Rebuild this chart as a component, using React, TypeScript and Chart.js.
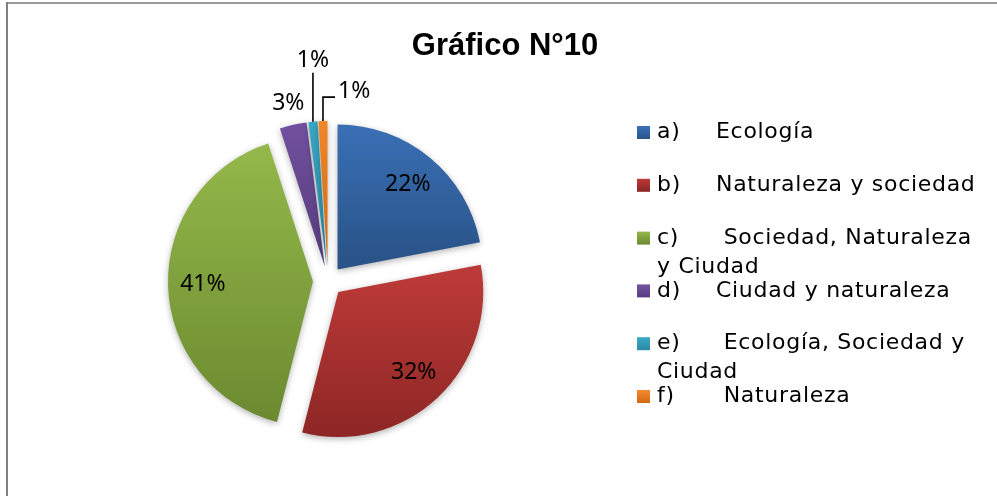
import React, { useEffect, useRef } from 'react';
import { Chart, registerables } from 'chart.js';

Chart.register(...registerables);

// ---------- data ----------
const TITLE = 'Gráfico N°10';
const CATEGORIES = [
  'a)\tEcología',
  'b)\tNaturaleza y sociedad',
  'c)\t Sociedad, Naturaleza y Ciudad',
  'd)\tCiudad y naturaleza',
  'e)\t Ecología, Sociedad y Ciudad',
  'f)\t Naturaleza',
];
const PERCENTAGES = [22, 32, 41, 3, 1, 1];

// ---------- style ----------
const TOP_COLORS = ['#3b72b9', '#bb3a37', '#94b84a', '#7453a3', '#3aa9c8', '#f58a2d'];
const BOTTOM_COLORS = ['#2a5489', '#8a2524', '#6b8a30', '#583d7e', '#2a8aa5', '#d06a12'];
const MID_COLORS = ['#3263a1', '#a2302e', '#80a13d', '#664890', '#3299b6', '#e27a20'];

const W = 997;
const H = 496;
const CX = 328;
const CY = 281;
const R = 145;
const EXPLODE = 15;
const LABEL_FONT = '23px "Noto Sans"';
const LEGEND_FONT = '22px "DejaVu Sans"';

const framePlugin = {
  id: 'frame',
  beforeDraw(chart: any) {
    const ctx = chart.ctx;
    ctx.save();
    ctx.fillStyle = '#ffffff';
    ctx.fillRect(0, 0, W, H);
    ctx.fillStyle = '#9a9a9a';
    ctx.fillRect(6, 2, W - 6, 2);
    ctx.fillStyle = '#808080';
    ctx.fillRect(6, 2, 2, H - 2);
    ctx.restore();
  },
};

const explodePlugin = {
  id: 'explode',
  beforeDatasetDraw(chart: any) {
    const meta = chart.getDatasetMeta(0);
    meta.data.forEach((arc: any, i: number) => {
      if (arc.__wrapped) return;
      arc.__wrapped = true;
      const orig = arc.draw;
      arc.draw = function (ctx: CanvasRenderingContext2D) {
        const { x, y, startAngle, endAngle, outerRadius } = this.getProps([
          'x', 'y', 'startAngle', 'endAngle', 'outerRadius',
        ]);
        const mid = (startAngle + endAngle) / 2;
        const dx = Math.cos(mid) * EXPLODE;
        const dy = Math.sin(mid) * EXPLODE;
        let minY = y;
        let maxY = y;
        const angles = [startAngle, endAngle];
        for (let k = -2; k <= 4; k++) {
          const a = (k * Math.PI) / 2;
          if (a > startAngle && a < endAngle) angles.push(a);
        }
        angles.forEach((a) => {
          const py = y + Math.sin(a) * outerRadius;
          minY = Math.min(minY, py);
          maxY = Math.max(maxY, py);
        });
        const g = ctx.createLinearGradient(0, minY + dy, 0, maxY + dy);
        g.addColorStop(0, TOP_COLORS[i]);
        g.addColorStop(1, BOTTOM_COLORS[i]);
        const saved = this.options;
        this.options = Object.assign({}, saved, { backgroundColor: g, offset: 0 });
        ctx.save();
        ctx.translate(dx, dy);
        ctx.shadowColor = 'rgba(0,0,0,0.30)';
        ctx.shadowBlur = 6;
        ctx.shadowOffsetY = 2;
        orig.call(this, ctx);
        ctx.restore();
        this.options = saved;
      };
    });
  },
};

const labelsPlugin = {
  id: 'pctLabels',
  afterDatasetsDraw(chart: any) {
    const ctx = chart.ctx;
    const meta = chart.getDatasetMeta(0);
    const total = PERCENTAGES.reduce((s, v) => s + v, 0);
    ctx.save();
    ctx.font = LABEL_FONT;
    ctx.fillStyle = '#000';
    ctx.strokeStyle = '#000';
    ctx.lineWidth = 1.6;
    ctx.textBaseline = 'middle';
    meta.data.forEach((arc: any, i: number) => {
      const { x, y, startAngle, endAngle, outerRadius } = arc.getProps([
        'x', 'y', 'startAngle', 'endAngle', 'outerRadius',
      ]);
      const mid = (startAngle + endAngle) / 2;
      const ax = x + Math.cos(mid) * EXPLODE;
      const ay = y + Math.sin(mid) * EXPLODE;
      const ox = ax + Math.cos(mid) * outerRadius;
      const oy = ay + Math.sin(mid) * outerRadius;
      const pct = (PERCENTAGES[i] / total) * 100;
      const txt = Math.round(pct) + '%';
      if (pct >= 10) {
        ctx.textAlign = 'center';
        ctx.fillText(txt, ax + Math.cos(mid) * outerRadius * 0.76, ay + Math.sin(mid) * outerRadius * 0.76);
      } else if (i === 3) {
        ctx.textAlign = 'center';
        ctx.fillText(txt, ax + Math.cos(mid) * outerRadius * 1.15, ay + Math.sin(mid) * outerRadius * 1.15);
      } else if (i === 4) {
        ctx.beginPath();
        ctx.moveTo(ox, oy);
        ctx.lineTo(ox, oy - 49);
        ctx.stroke();
        ctx.textAlign = 'center';
        ctx.fillText(txt, ox, oy - 61);
      } else {
        ctx.beginPath();
        ctx.moveTo(ox, oy);
        ctx.lineTo(ox, oy - 24);
        ctx.lineTo(ox + 12, oy - 24);
        ctx.stroke();
        ctx.textAlign = 'left';
        ctx.fillText(txt, ox + 15, oy - 30);
      }
    });
    ctx.restore();
  },
};

const legendPlugin = {
  id: 'customLegend',
  afterDraw(chart: any) {
    const ctx = chart.ctx;
    ctx.save();
    // title
    ctx.font = 'bold 31px "Liberation Sans"';
    ctx.fillStyle = '#000';
    ctx.textAlign = 'center';
    ctx.textBaseline = 'alphabetic';
    ctx.fillText(TITLE, 505, 54.5);

    // legend
    const sqX = 637;
    const sqSize = 13;
    const textX = 657;
    const tabX = 716;
    const maxRight = 990;
    const firstY = 132.5;
    const step = 52.8;
    const lineH = 29;
    ctx.font = LEGEND_FONT;
    (ctx as any).letterSpacing = '0.7px';
    ctx.textAlign = 'left';
    ctx.textBaseline = 'middle';
    CATEGORIES.forEach((label, i) => {
      const cy = firstY + step * i;
      const g = ctx.createLinearGradient(0, cy - sqSize / 2, 0, cy + sqSize / 2);
      g.addColorStop(0, TOP_COLORS[i]);
      g.addColorStop(1, BOTTOM_COLORS[i]);
      ctx.fillStyle = g;
      ctx.fillRect(sqX, cy - sqSize / 2, sqSize, sqSize);
      ctx.fillStyle = '#000';
      const [marker, rest] = label.split('\t');
      ctx.fillText(marker, textX, cy);
      const words = rest.split(' ');
      let line = '';
      let startX = tabX;
      let ly = cy;
      words.forEach((w, wi) => {
        const cand = wi === 0 ? w : line + ' ' + w;
        if (line.trim() !== '' && startX + ctx.measureText(cand).width > maxRight) {
          ctx.fillText(line, startX, ly);
          line = w;
          startX = textX;
          ly += lineH;
        } else {
          line = cand;
        }
      });
      if (line) ctx.fillText(line, startX, ly);
    });
    (ctx as any).letterSpacing = '0px';
    ctx.restore();
  },
};

export default function App() {
  const canvasRef = useRef<HTMLCanvasElement | null>(null);

  useEffect(() => {
    const canvas = canvasRef.current;
    if (!canvas) return;
    const chart = new Chart(canvas, {
      type: 'pie',
      data: {
        labels: CATEGORIES,
        datasets: [
          {
            data: PERCENTAGES,
            backgroundColor: MID_COLORS,
            borderWidth: 0,
          },
        ],
      },
      options: {
        responsive: false,
        animation: false,
        devicePixelRatio: 1,
        events: [],
        layout: {
          padding: { left: CX - R, right: W - CX - R, top: CY - R, bottom: H - CY - R },
        },
        plugins: {
          legend: { display: false },
          title: { display: false },
          tooltip: { enabled: false },
        },
      } as any,
      plugins: [framePlugin, explodePlugin, labelsPlugin, legendPlugin],
    });
    return () => chart.destroy();
  }, []);

  return (
    <div style={{ position: 'fixed', left: 0, top: 0, width: W, height: H, background: '#fff', overflow: 'hidden' }}>
      <canvas ref={canvasRef} width={W} height={H} style={{ display: 'block', width: W, height: H }} />
    </div>
  );
}
